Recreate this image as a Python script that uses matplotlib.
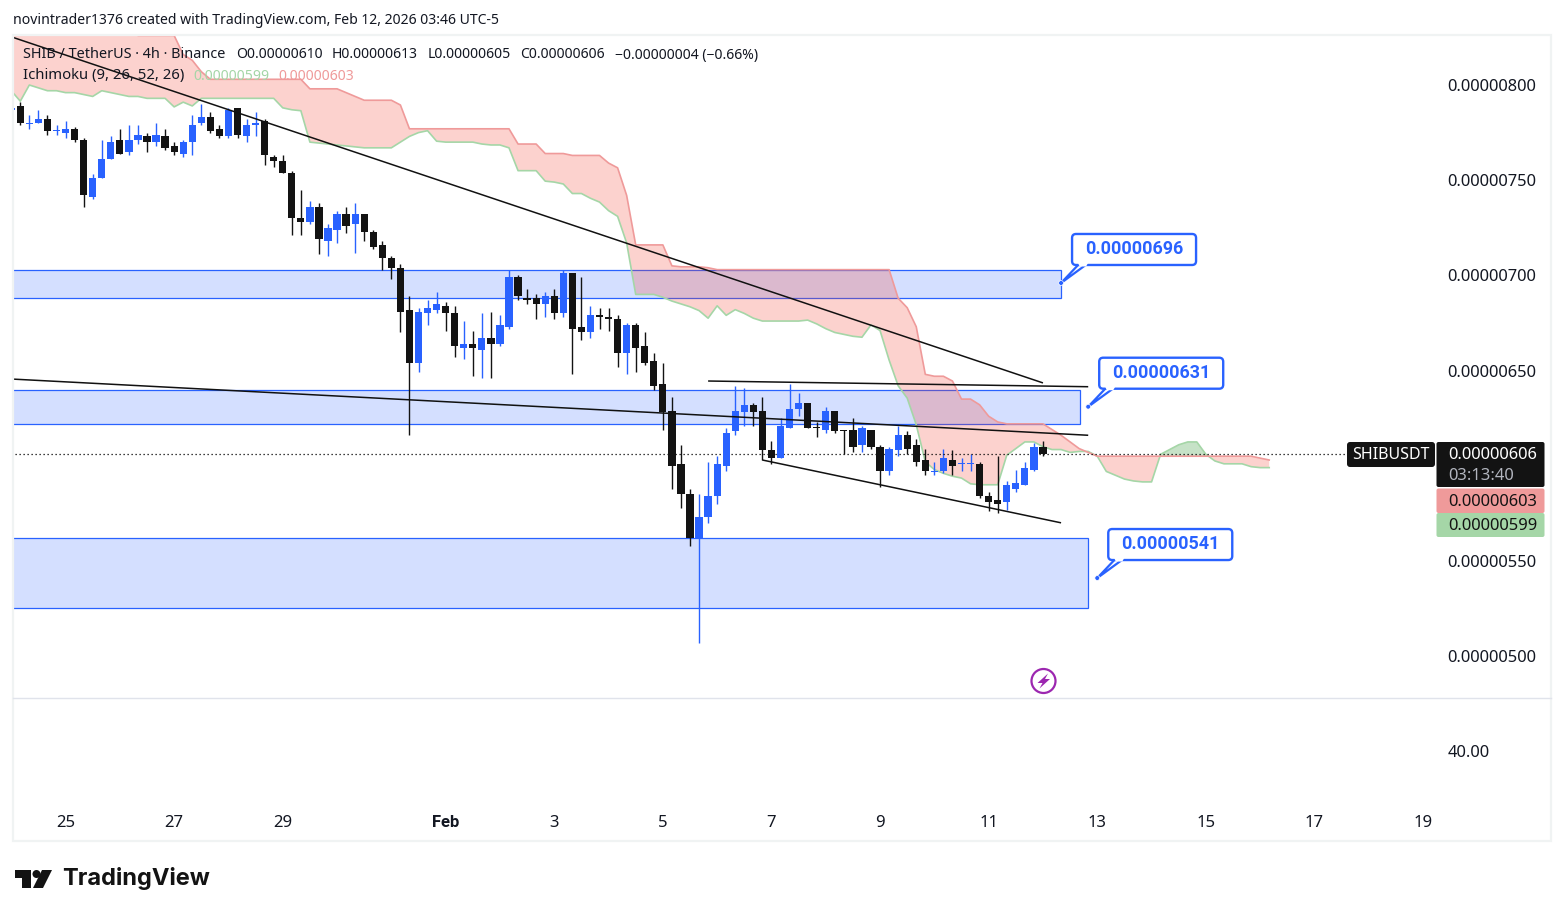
import matplotlib
matplotlib.use("Agg")
import matplotlib.pyplot as plt
import matplotlib.transforms as mtransforms
from matplotlib.patches import FancyBboxPatch, Polygon, Rectangle, Circle

plt.rcParams['font.family'] = ['Noto Sans', 'DejaVu Sans']

#=============================== prices, in units of 0.00000001 ===============================
first_bar = -1
opens = [787, 789, 780, 780, 782, 776, 775, 777, 771, 741, 751, 761, 771, 765, 771, 773, 770, 773, 768, 764,
         770, 780, 783, 777, 773, 788, 773, 779, 781, 762, 760, 754, 730, 728, 736, 718, 724, 732, 727, 732,
         723, 716, 709, 704, 682, 654, 680, 682, 684, 680, 662, 664, 661, 667, 664, 673, 699, 688, 688, 685,
         689, 680, 701, 673, 670, 679, 678, 677, 659, 674, 663, 655, 643, 629, 601, 585, 562, 573, 584, 600,
         618, 628, 632, 629, 608, 604, 620, 630, 633, 620.4, 619, 629, 619, 619, 611, 619, 610, 597, 608, 616,
         611, 603, 597, 597, 603, 601, 601, 601, 584, 582, 581, 588, 590, 598, 610]
highs = [788, 791, 784, 787, 784, 779, 781, 778, 772, 753, 771, 773, 777, 779, 779, 775, 780, 777, 770, 771,
         784, 790, 786, 779, 788, 788, 782, 786, 782, 763, 763, 755, 745, 739, 738, 727, 734, 736, 738, 732,
         724, 718, 710, 706, 689, 683, 687, 691, 686, 684, 676, 671, 680, 681, 679, 703, 700, 693, 690, 691,
         693, 703, 701, 699, 684, 683, 683, 679, 675, 675, 670, 659, 654, 636, 611, 588, 585, 602, 605, 620,
         642, 641, 633, 636, 613, 625, 643, 638, 633, 623, 631, 629, 619, 625, 621, 619, 611, 610, 621, 618,
         614, 609, 602, 609, 608, 604, 606, 602, 586, 605, 592, 598, 602, 612, 613]
lows = [787, 779, 777, 780, 774, 774, 772, 770, 736, 740, 751, 761, 764, 763, 769, 765, 768, 766, 763, 762,
        763, 779, 775, 772, 772, 772, 770, 773, 758, 757, 754, 721, 721, 727, 711, 710, 717, 722, 712, 718,
        714, 703, 698, 670, 616, 649, 674, 680, 671, 657, 656, 647, 646, 646, 663, 672, 687, 685, 677, 678,
        677, 678, 648, 666, 667, 672, 671, 652, 648, 649, 653, 640, 619, 588, 578, 558, 507, 570, 580, 597,
        616, 621, 621, 603, 601, 604, 620, 626, 620, 615, 617, 617, 606, 607, 607, 609, 589, 595, 605, 606,
        600, 595, 595, 596, 595, 597, 597, 583, 576, 575, 577, 586, 590, 597, 605]
closes = [788, 780, 780, 782, 776, 776, 777, 771, 742, 751, 761, 770, 764, 771, 774, 770, 774, 767, 765, 770,
          779, 783, 776, 773, 787, 774, 779, 780, 763, 760, 754, 730, 728, 736, 719, 725, 732, 726, 732, 723,
          715, 709, 704, 681, 654, 681, 683, 685, 680, 663, 664, 662, 667, 664, 674, 699, 689, 687, 685, 689,
          680, 701, 672, 670, 679, 678, 677, 659, 674, 662, 654, 642, 628, 600, 585, 562, 573, 584, 601, 617,
          629, 632, 628, 608, 604, 621, 630, 633, 620, 620, 629, 618, 618, 610, 620, 610, 597, 609, 616, 609,
          602, 597, 597, 604, 600, 601, 601, 584, 581, 580, 590, 591, 599, 610, 606]

# ichimoku lead lines, plotted 26 bars ahead of price
lead_a = [797, 791.5, 800, 798.5, 797, 797, 796, 796, 795, 794, 797, 796, 795, 794,
          794, 793, 793, 793, 788.5, 791, 789, 793, 793, 793, 793, 793, 793, 793, 793, 793,
          788, 787, 786.5, 770, 769.5, 769, 768.5, 768, 767.5, 767, 767, 767, 767, 770, 773,
          775, 776, 770.5, 770, 770, 770, 770, 769, 768.5, 768.5, 767, 755, 755, 755, 749.5,
          749, 748, 743, 743, 740.5, 738.5, 734, 731, 717, 690, 690, 690, 688.5, 686.5, 685,
          683.5, 681.5, 677.5, 684, 679, 682, 680, 677.5, 676, 676, 676, 676, 676, 676.5, 674.5,
          672, 670, 669, 668, 667.5, 674, 671, 655.5, 642, 635.5, 621.5, 602, 598, 596, 594.5,
          593.5, 590.5, 590, 590, 590, 605.5, 609, 612.5, 612.5, 610, 608.5, 608.5, 607, 607.5, 607.5,
          605, 597, 595, 593, 592, 591.5, 591.5, 606, 608.5, 611, 612.5, 612.5, 606, 602.5, 601,
          601, 601, 599.5, 599, 599]
lead_b = [835, 835, 835, 835, 835, 835, 835, 835, 835, 835, 835, 835, 835, 835,
          826, 826, 826, 826, 826, 816, 813, 807, 803, 803, 803, 803, 803, 803, 803, 803, 803, 803, 803,
          798, 798, 798, 798, 796, 794, 792, 792, 792, 792, 789.5,
          777, 777, 777, 777, 777, 777, 777, 777, 777, 777, 777, 777, 769, 769, 769, 764, 764, 764,
          763, 763, 763, 763, 759, 756.5, 742, 716, 716, 716, 716, 705, 704.5, 704.5, 704.5, 704,
          703, 703, 703, 703, 703, 703, 703, 703, 703, 703, 703, 703, 703, 703, 703, 703, 703, 703, 703, 703,
          688, 683, 673, 648, 647, 647, 644.5, 635, 635, 632, 626, 623, 622, 622, 622, 622, 622,
          619, 616, 612.5, 609, 607,
          605, 605, 605, 605, 605, 605, 605, 605, 605, 605, 605, 605, 605, 605, 605, 605, 605, 605,
          604, 603]

# zones: last bar, upper price, lower price
zone_right = [115, 117.1, 118]
zone_top = [703, 640, 562]
zone_bottom = [688, 622, 525]

# trend lines: (bar, bar), (price, price)
trend_bars = [(-0.8, 113), (-0.8, 118), (76, 118), (82, 115)]
trend_prices = [(825, 643.5), (645.5, 616), (644.5, 641.5), (603, 570)]

# callouts on the zones
note_bars = [115, 118, 119]
note_prices = [696, 631, 541]

last_close = 606
price_ticks = [500, 550, 650, 700, 750, 800]
date_bars = [5, 17, 29, 47, 59, 71, 83, 95, 107, 119, 131, 143, 155]
date_labels = ['25', '27', '29', 'Feb', '3', '5', '7', '9', '11', '13', '15', '17', '19']

BLUE = '#2962ff'
BLACK = '#131313'
TEXT = '#131722'
RED_LINE = '#ef9a9a'
GREEN_LINE = '#a5d6a7'
BOLD_FONT = ['Roboto', 'DejaVu Sans']
W, H = 1564, 916

fig = plt.figure(figsize=(W / 100, H / 100), dpi=100, facecolor='white')

# helper for pane rectangles given in pixels from the top left
def pane(x0, y0, x1, y1, **kw):
    return fig.add_axes([x0 / W, 1 - y1 / H, (x1 - x0) / W, (y1 - y0) / H], **kw)

ax = pane(13, 34, 1437, 697)
ax2 = pane(13, 697, 1437, 805, sharex=ax)
ax.set_xlim(-0.807, 156.54)
ax.set_ylim(478.5, 826.8)
ax2.set_ylim(0, 80)

for a in (ax, ax2):
    a.patch.set_alpha(0)
    for s in a.spines.values():
        s.set_visible(False)

ax.yaxis.tick_right()
ax.set_yticks(price_ticks)
ax.set_yticklabels(['0.%08d' % v for v in price_ticks])
ax.tick_params(axis='y', length=0, pad=7.5, labelsize=11.9, labelcolor=TEXT)
ax.tick_params(axis='x', length=0, labelbottom=False)

ax2.yaxis.tick_right()
ax2.set_yticks([40])
ax2.set_yticklabels(['40.00'])
ax2.tick_params(axis='y', length=0, pad=7.5, labelsize=11.9, labelcolor=TEXT)
ax2.set_xticks(date_bars)
ax2.set_xticklabels(date_labels)
ax2.tick_params(axis='x', length=0, pad=7, labelsize=12, labelcolor=TEXT)
for lab in ax2.get_xticklabels():
    if lab.get_text() == 'Feb':
        lab.set_family(BOLD_FONT)
        lab.set_fontweight('bold')

#=============================== zones =====================================
for right, top, bottom in zip(zone_right, zone_top, zone_bottom):
    ax.add_patch(Rectangle((-2, bottom), right + 2, top - bottom, fc=BLUE, alpha=0.2, lw=0, zorder=1))
    ax.add_patch(Rectangle((-2, bottom), right + 2, top - bottom, fc='none', ec=BLUE, lw=0.9, zorder=1.5))

#=============================== ichimoku cloud =====================================
cloud_bars = list(range(first_bar, first_bar + len(lead_a)))
above = [p >= q for p, q in zip(lead_a, lead_b)]
below = [p <= q for p, q in zip(lead_a, lead_b)]
ax.fill_between(cloud_bars, lead_a, lead_b, where=below, interpolate=True, color='#f44336', alpha=0.24, lw=0, zorder=2)
ax.fill_between(cloud_bars, lead_a, lead_b, where=above, interpolate=True, color='#43a047', alpha=0.3, lw=0, zorder=2)
ax.plot(cloud_bars, lead_a, color=GREEN_LINE, lw=1.2, zorder=2.5)
ax.plot(cloud_bars, lead_b, color=RED_LINE, lw=1.2, zorder=2.5)

#=============================== candles =====================================
for n, (o, h, l, c) in enumerate(zip(opens, highs, lows, closes)):
    i = first_bar + n
    col = BLUE if c >= o else BLACK
    ax.vlines(i, l, h, color=col, lw=1.0, zorder=3)
    top, bot = max(o, c), min(o, c)
    if top - bot < 0.6:
        top, bot = (top + bot) / 2 + 0.3, (top + bot) / 2 - 0.3
    ax.bar(i, top - bot, bottom=bot, width=0.8, color=col, lw=0, zorder=3.2)

ax.hlines(last_close, -1, 146.5, color='black', lw=0.9, linestyles=(0, (1, 2.2)), zorder=3)

#=============================== trend lines =====================================
for b, p in zip(trend_bars, trend_prices):
    ax.plot(b, p, color='#111111', lw=1.1, zorder=4, solid_capstyle='butt')

#=============================== callouts =====================================
for b, p in zip(note_bars, note_prices):
    tr = mtransforms.ScaledTranslation(b, p, ax.transData)
    ax.add_patch(Polygon([(0, 0), (18, 19), (26, 19)], closed=True, fc='white', ec=BLUE, lw=1.6,
                         transform=tr, clip_on=False, zorder=6))
    ax.add_patch(FancyBboxPatch((11, 18), 124, 31, boxstyle='round,pad=0,rounding_size=4', fc='white', ec=BLUE,
                                lw=1.7, transform=tr, clip_on=False, zorder=6.5))
    ax.add_patch(Polygon([(18.5, 16.5), (25, 16.5), (27, 20), (17, 20)], closed=True, fc='white', lw=0,
                         transform=tr, clip_on=False, zorder=6.6))
    ax.add_patch(Circle((0, 0), 2.4, fc=BLUE, ec='white', lw=0.5, transform=tr, clip_on=False, zorder=7))
    ax.text(73, 34, '0.%08d' % p, transform=tr, color=BLUE, fontsize=13, fontweight='bold', family=BOLD_FONT,
            ha='center', va='center', zorder=8)

#=============================== frame, legend, tags, logo =====================================
deco = fig.add_axes([0, 0, 1, 1], zorder=10)
deco.set_xlim(0, W)
deco.set_ylim(H, 0)
deco.axis('off')
deco.patch.set_alpha(0)

deco.add_patch(Rectangle((12.5, 34.5), 1538, 806, fc='none', ec='#f0f3f3', lw=1.6))
deco.plot([13, 1551], [697.5, 697.5], color='#e0e3eb', lw=1)

deco.text(13, 20, 'novintrader1376 created with TradingView.com, Feb 12, 2026 03:46 UTC-5', fontsize=10.1,
          color=TEXT, va='center')
deco.text(23, 55, 'SHIB / TetherUS · 4h · Binance', fontsize=10.4, color=TEXT, va='center')
for x, s in zip([236, 332, 428, 520, 615],
                ['O0.00000610', 'H0.00000613', 'L0.00000605', 'C0.00000606', '−0.00000004 (−0.66%)']):
    deco.text(x, 55, s, fontsize=10.1, color=TEXT, va='center')
deco.text(23, 76, 'Ichimoku (9, 26, 52, 26)', fontsize=10.7, color=TEXT, va='center')
deco.text(193, 76, '0.00000599', fontsize=10.1, color=GREEN_LINE, va='center')
deco.text(278, 76, '0.00000603', fontsize=10.1, color=RED_LINE, va='center')

# tags on the price scale
deco.add_patch(FancyBboxPatch((1347, 442), 88, 25, boxstyle='round,pad=0,rounding_size=3', fc=BLACK, lw=0))
deco.text(1391, 455, 'SHIBUSDT', color='white', fontsize=11.5, ha='center', va='center')
deco.add_patch(FancyBboxPatch((1436.5, 442), 108, 45, boxstyle='round,pad=0,rounding_size=2', fc=BLACK, lw=0))
deco.text(1448.5, 455, '0.00000606', color='white', fontsize=11.9, va='center')
deco.text(1448.5, 476, '03:13:40', color='#b2b5be', fontsize=11.9, va='center')
deco.add_patch(FancyBboxPatch((1436.5, 488.5), 108, 24.5, boxstyle='round,pad=0,rounding_size=2', fc=RED_LINE, lw=0))
deco.text(1448.5, 501.5, '0.00000603', color=BLACK, fontsize=11.9, va='center')
deco.add_patch(FancyBboxPatch((1436.5, 513), 108, 24, boxstyle='round,pad=0,rounding_size=2', fc=GREEN_LINE, lw=0))
deco.text(1448.5, 525.5, '0.00000599', color=BLACK, fontsize=11.9, va='center')

# lightning marker
deco.add_patch(Circle((1043.5, 681), 12, fc='white', ec='#9c27b0', lw=1.6))
deco.add_patch(Polygon([(1048, 673.5), (1037.5, 683), (1042.5, 683), (1039.5, 688.5), (1050, 679), (1045, 679)],
                       closed=True, fc='#9c27b0', lw=0))

# logo
deco.add_patch(Polygon([(15, 870), (31, 870), (31, 888), (22, 888), (22, 878), (15, 878)], closed=True, fc=BLACK, lw=0))
deco.add_patch(Circle((36.5, 874), 4, fc=BLACK, lw=0))
deco.add_patch(Polygon([(42, 870), (52, 870), (43, 888), (33, 888)], closed=True, fc=BLACK, lw=0))
deco.text(62, 879, 'TradingView', fontsize=17, color=BLACK, fontweight='bold', family=['Inter', 'DejaVu Sans'], va='center')

fig.savefig('out.png', dpi=100)
